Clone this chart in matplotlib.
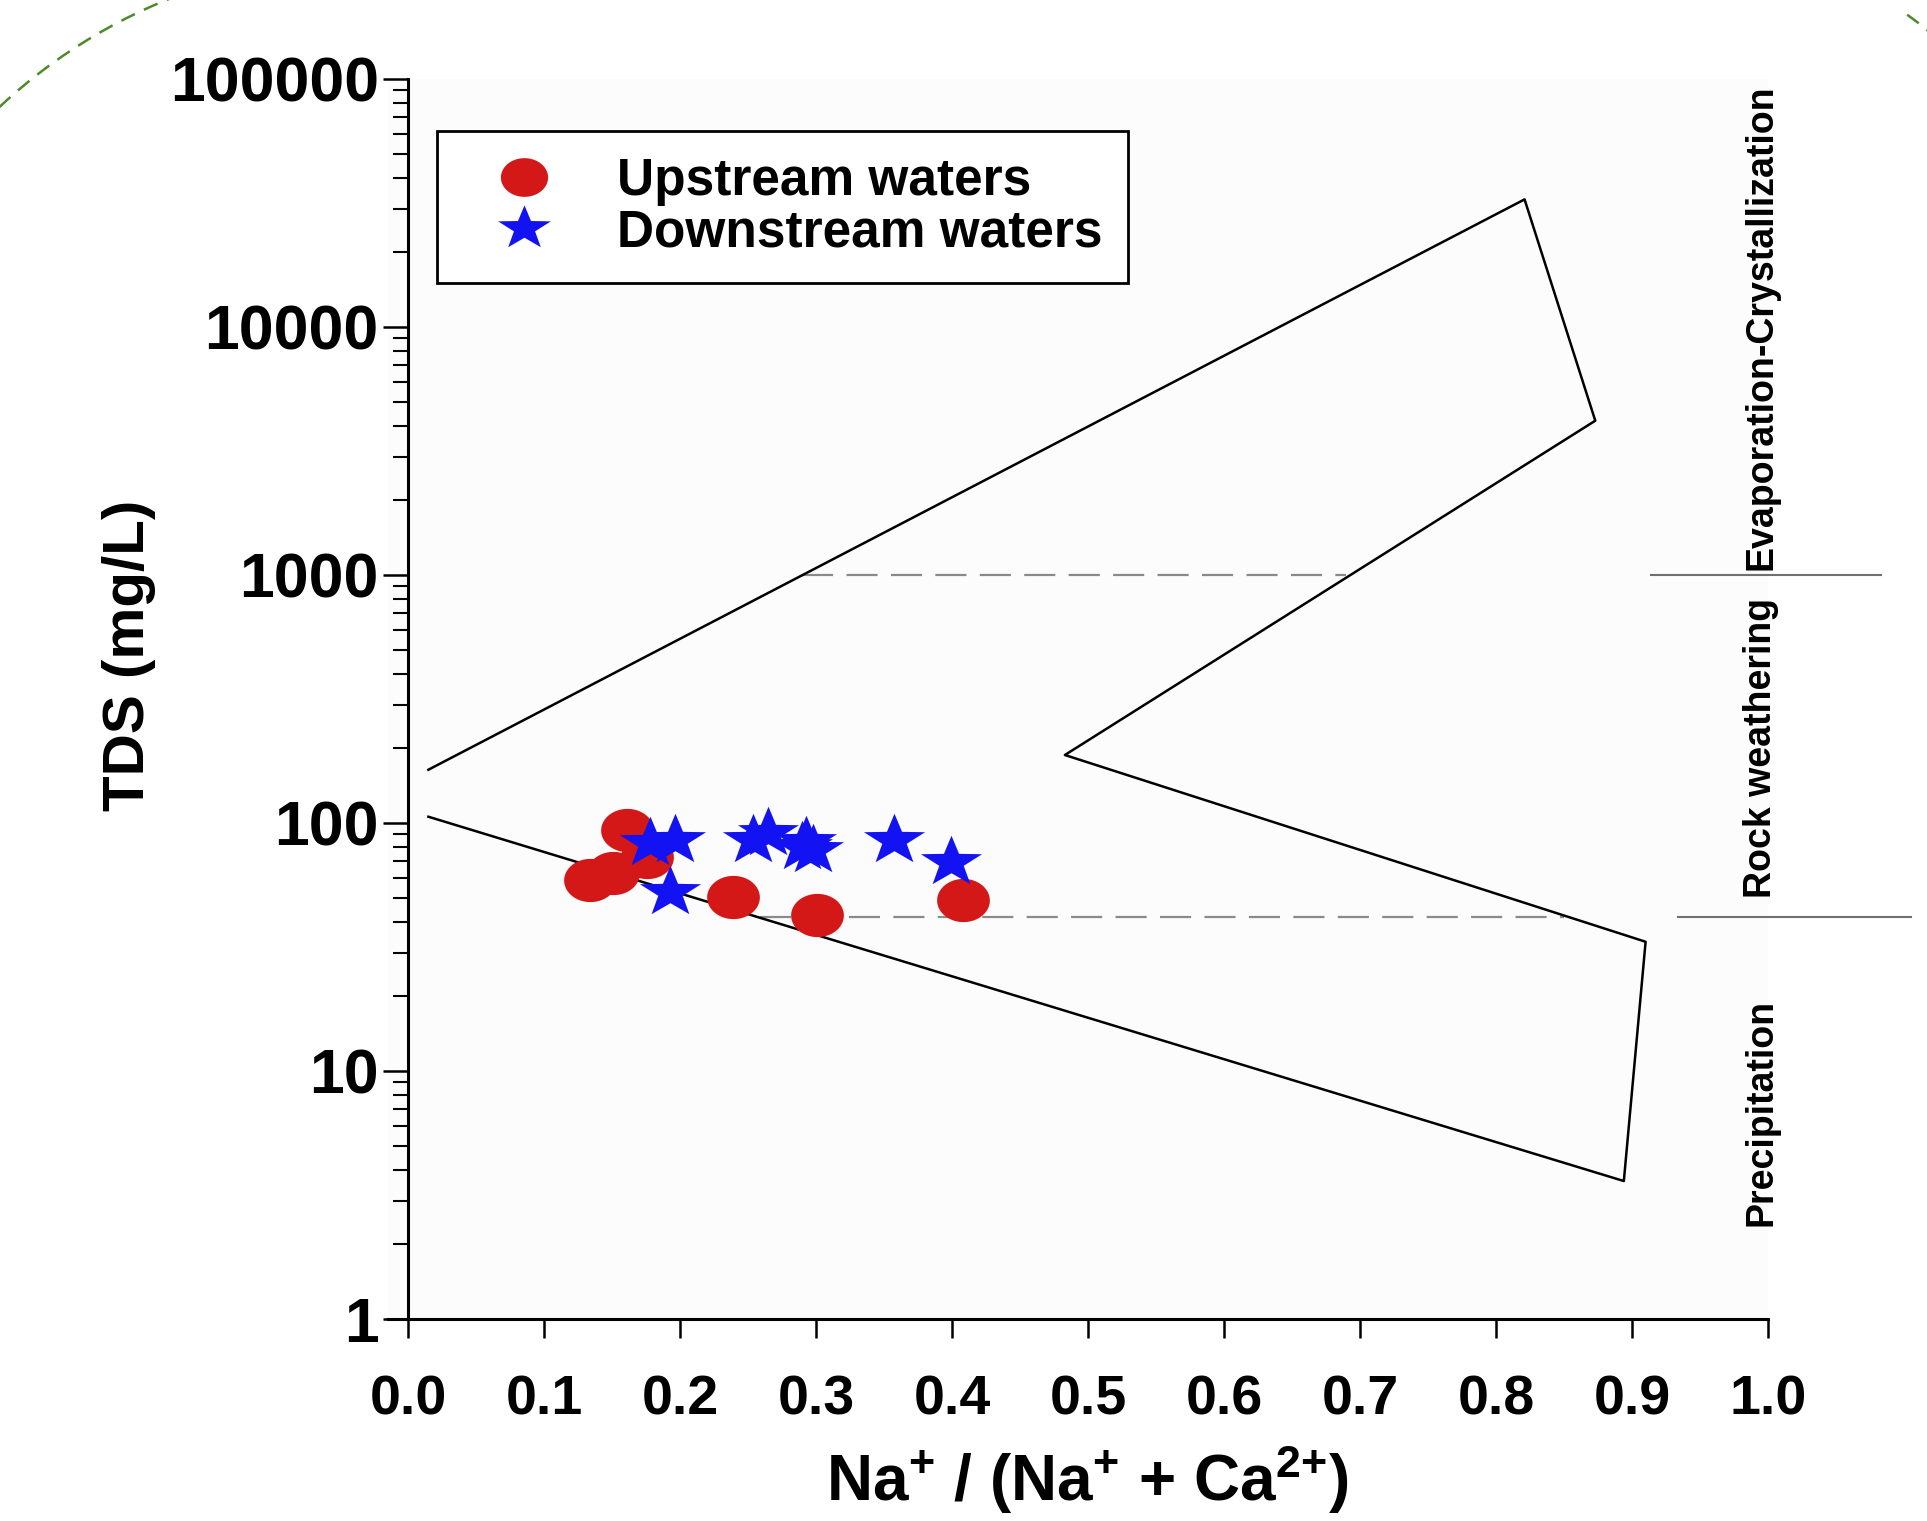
import numpy as np
import matplotlib.pyplot as plt
from matplotlib.path import Path
from matplotlib.patches import Arc
from matplotlib.lines import Line2D

# Gibbs boundary, drawn as an open polyline
gibbs_x = [0.015, 0.821, 0.873, 0.483, 0.910, 0.894, 0.015]
gibbs_tds = [164, 32700, 4190, 188, 33.2, 3.6, 106]

# samples
up_x = [0.161, 0.176, 0.134, 0.151, 0.239, 0.301, 0.408]
up_tds = [93.7, 72.9, 58.9, 62.9, 50.3, 42.6, 48.9]

down_x = [0.178, 0.196, 0.193, 0.254, 0.265, 0.290, 0.293, 0.298, 0.357, 0.399]
down_tds = [83, 85.4, 52.7, 85.4, 91, 80, 83.8, 77.8, 85.4, 69.6]

# dashed zone boundaries
dash_tds = [1000, 41.7]
dash_start = [0.290, 0.259]
dash_end = [0.690, 0.850]

zone_labels = ['Evaporation-Crystallization', 'Rock weathering', 'Precipitation']
zone_centers = [10000, 200, 6.8]

x_ticks = [0.0, 0.1, 0.2, 0.3, 0.4, 0.5, 0.6, 0.7, 0.8, 0.9, 1.0]
y_ticks = [1, 10, 100, 1000, 10000, 100000]
y_ticklabels = ['1', '10', '100', '1000', '10000', '100000']

plt.rcParams['font.family'] = ['Liberation Sans', 'DejaVu Sans']
plt.rcParams['font.weight'] = 'bold'
plt.rcParams['mathtext.fontset'] = 'custom'
plt.rcParams['mathtext.bf'] = 'Liberation Sans:bold'
plt.rcParams['mathtext.rm'] = 'Liberation Sans:bold'
plt.rcParams['mathtext.default'] = 'bf'

W, H = 1927, 1521
fig = plt.figure(figsize=(W / 100, H / 100), dpi=100)
ax = fig.add_axes([387.6 / W, 202 / H, (1768 - 387.6) / W, 1240 / H])
ax.set_facecolor('#fcfcfc')

# stretched markers (source picture is squashed a little)
t = np.linspace(0, 2 * np.pi, 60)
ellipse = Path(np.column_stack([1.22 * np.cos(t), np.sin(t)]))
star_v = Path.unit_regular_star(5, 0.4).vertices.copy()
star_v[:, 0] *= 1.2
star = Path(star_v, Path.unit_regular_star(5, 0.4).codes)

red = '#d41818'
blue = '#1212f2'

ax.plot(gibbs_x, gibbs_tds, color='black', lw=1.8, zorder=2)

for yv, x0, x1 in zip(dash_tds, dash_start, dash_end):
    ax.plot([x0, x1], [yv, yv], color='#8a8a8a', lw=1.6, dashes=(14, 6), zorder=1)

ax.scatter(up_x, up_tds, marker=ellipse, s=38 ** 2, color=red, lw=0, zorder=3)
ax.scatter(down_x, down_tds, marker=star, s=44 ** 2, color=blue, lw=0, zorder=4)

ax.set_yscale('log')
ax.set_ylim(1, 100000)
ax.set_xlim(-0.015, 1.0)
ax.spines['left'].set_position(('data', 0))
ax.spines['right'].set_visible(False)
ax.spines['top'].set_visible(False)
for s in ['left', 'bottom']:
    ax.spines[s].set_linewidth(2.2)

ax.set_xticks(x_ticks)
ax.set_xticklabels([f'{v:.1f}' for v in x_ticks])
ax.set_yticks(y_ticks)
ax.set_yticklabels(y_ticklabels)
ax.tick_params(axis='x', direction='out', length=14, width=1.8, labelsize=40, pad=26)
ax.tick_params(axis='y', which='major', direction='out', length=18, width=1.8, labelsize=45, pad=3)
ax.tick_params(axis='y', which='minor', direction='out', length=11, width=1.5)

ax.set_xlabel(r'Na$^{+}$ / (Na$^{+}$ + Ca$^{2{+}}$)', fontsize=46, fontweight='bold')
ax.xaxis.set_label_coords(0.507, -0.1)
ax.set_ylabel('TDS (mg/L)', fontsize=42, fontweight='bold')
ax.yaxis.set_label_coords(-0.168, 0.535)

# zone separators and labels on the right
ax.plot([0.914, 1.083], [1000, 1000], color='#707070', lw=1.5, clip_on=False)
ax.plot([0.934, 1.105], [41.7, 41.7], color='#707070', lw=1.5, clip_on=False)
for lab, yc in zip(zone_labels, zone_centers):
    ax.text(0.995, yc, lab, rotation=90, ha='center', va='center', fontsize=27,
            family=['Liberation Sans Narrow', 'Liberation Sans'], fontweight='bold',
            clip_on=False)

handles = [
    Line2D([], [], ls='none', marker=ellipse, markersize=34, color=red, mew=0),
    Line2D([], [], ls='none', marker=star, markersize=38, color=blue, mew=0),
]
leg = ax.legend(handles, ['Upstream waters', 'Downstream waters'],
                loc='upper left', bbox_to_anchor=(437 / W, 1 - 131 / H),
                bbox_transform=fig.transFigure, borderaxespad=0,
                fontsize=37, fancybox=False, edgecolor='black', framealpha=1,
                handletextpad=0.6, labelspacing=0.05, borderpad=0.5,
                handlelength=2.4)
leg.get_frame().set_linewidth(2)
for txt in leg.get_texts():
    txt.set_fontweight('bold')

# decorative dashed arcs from the slide border
fig.add_artist(Arc((371 / W, 1 - 503 / H), 2 * 543 / W, 2 * 543 / H, theta1=100, theta2=145,
                   transform=fig.transFigure, color='#4f8a2a', lw=1.8, ls=(0, (6, 4))))
fig.add_artist(Arc((1550 / W, 1 - 503 / H), 2 * 605 / W, 2 * 605 / H, theta1=40, theta2=60,
                   transform=fig.transFigure, color='#4f8a2a', lw=1.8, ls=(0, (6, 4))))

fig.savefig('out.png', dpi=100)
